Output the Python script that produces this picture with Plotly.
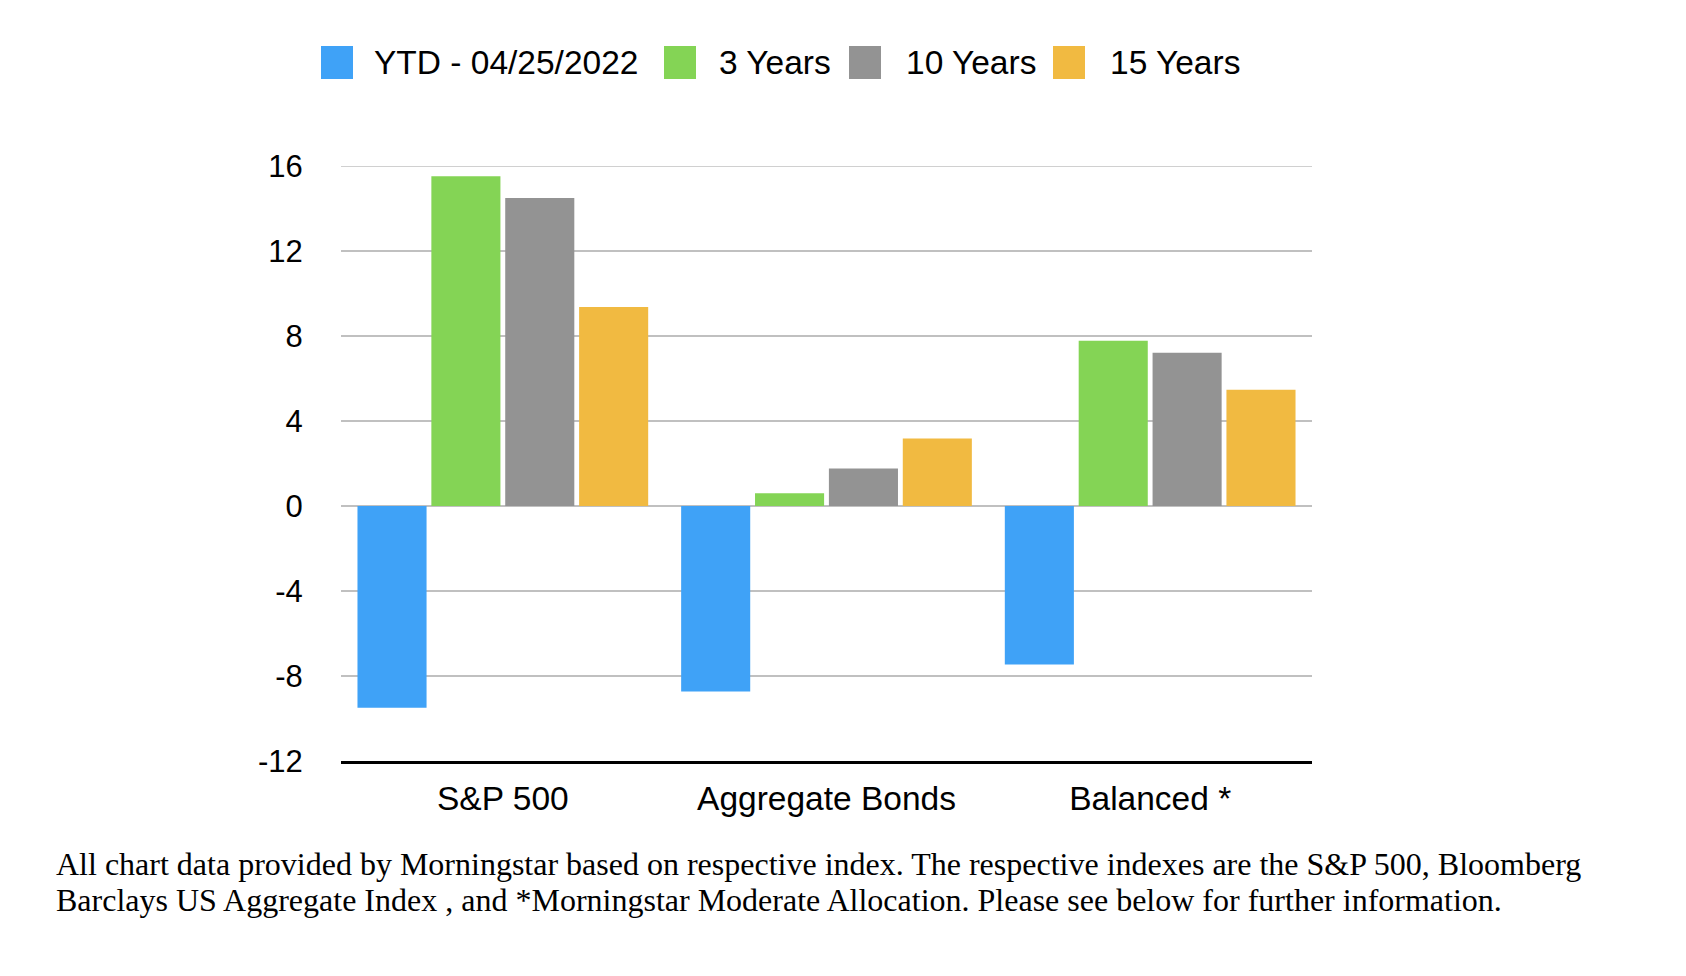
import plotly.graph_objects as go

# categories and series
categories = ["S&P 500", "Aggregate Bonds", "Balanced *"]
series_names = ["YTD - 04/25/2022", "3 Years", "10 Years", "15 Years"]
ytd = [-9.49, -8.73, -7.46]
three_years = [15.52, 0.60, 7.78]
ten_years = [14.49, 1.77, 7.21]
fifteen_years = [9.37, 3.18, 5.47]
y_ticks = [-12, -8, -4, 0, 4, 8, 12, 16]
y_ticktext = [str(v) for v in y_ticks]  # plain hyphen, not unicode minus

footnote_lines = [
    "All chart data provided by Morningstar based on respective index. "
    "The respective indexes are the S&P 500, Bloomberg",
    "Barclays US Aggregate Index , and *Morningstar Moderate Allocation. "
    "Please see below for further information.",
]

colors = ["#3fa2f7", "#84d455", "#939393", "#f1ba41"]
series = [ytd, three_years, ten_years, fifteen_years]
grid_col = "#c0c0c0"

# page has an 8px body margin, so figure is a bit smaller than the window
OFF = 8
W, H = 1670, 960
L, T = 341 - OFF, 166 - OFF
R = W - (1312 - OFF)
B = H - (761 - OFF)
plot_w = W - L - R
plot_h = H - T - B


# page pixel -> paper coords
def px_x(px):
    return (px - OFF - L) / plot_w


def px_y(py):
    return (H - B - (py - OFF)) / plot_h


fig = go.Figure()
for name, vals, col in zip(series_names, series, colors):
    fig.add_trace(go.Bar(x=categories, y=vals, name=name, marker_color=col,
                         marker_line_width=0, showlegend=False))

# top gridline gets dropped by plotly at the range edge, draw it
fig.add_shape(type="line", xref="paper", yref="y", x0=0, x1=1,
              y0=y_ticks[-1], y1=y_ticks[-1], line=dict(color=grid_col, width=1.7),
              layer="below")

# hand-made legend (big squares like the original)
legend_sq = [321, 664, 849, 1053]
legend_txt = [372, 717, 904, 1108]
for name, col, sx, tx in zip(series_names, colors, legend_sq, legend_txt):
    fig.add_shape(type="rect", xref="paper", yref="paper",
                  x0=px_x(sx), x1=px_x(sx + 32), y0=px_y(79), y1=px_y(46),
                  fillcolor=col, line_width=0)
    fig.add_annotation(text=name, xref="paper", yref="paper",
                       x=px_x(tx), y=px_y(63), xanchor="left", yanchor="middle",
                       showarrow=False, font=dict(size=33.5, color="black"))

for line, py in zip(footnote_lines, [864, 900]):
    fig.add_annotation(text=line, xref="paper", yref="paper",
                       x=px_x(54), y=px_y(py), xanchor="left", yanchor="middle",
                       align="left", showarrow=False,
                       font=dict(family="Liberation Serif", size=32, color="black"))

fig.update_layout(
    width=W, height=H,
    margin=dict(l=L, r=R, t=T, b=B),
    paper_bgcolor="white", plot_bgcolor="white",
    font=dict(family="Liberation Sans, Arial, sans-serif", color="black"),
    barmode="group", bargap=0.087, bargroupgap=0.065,
)
fig.update_yaxes(range=[-12, 16], tickvals=y_ticks, ticktext=y_ticktext,
                 showgrid=True, gridcolor=grid_col, gridwidth=1.7,
                 zeroline=True, zerolinecolor=grid_col, zerolinewidth=1.7,
                 ticks="outside", ticklen=31, tickcolor="rgba(0,0,0,0)",
                 tickfont=dict(size=31))
fig.update_xaxes(showline=True, linecolor="black", linewidth=3,
                 ticks="outside", ticklen=6, tickcolor="rgba(0,0,0,0)",
                 tickfont=dict(size=33.5))

fig.write_html("out.html")
